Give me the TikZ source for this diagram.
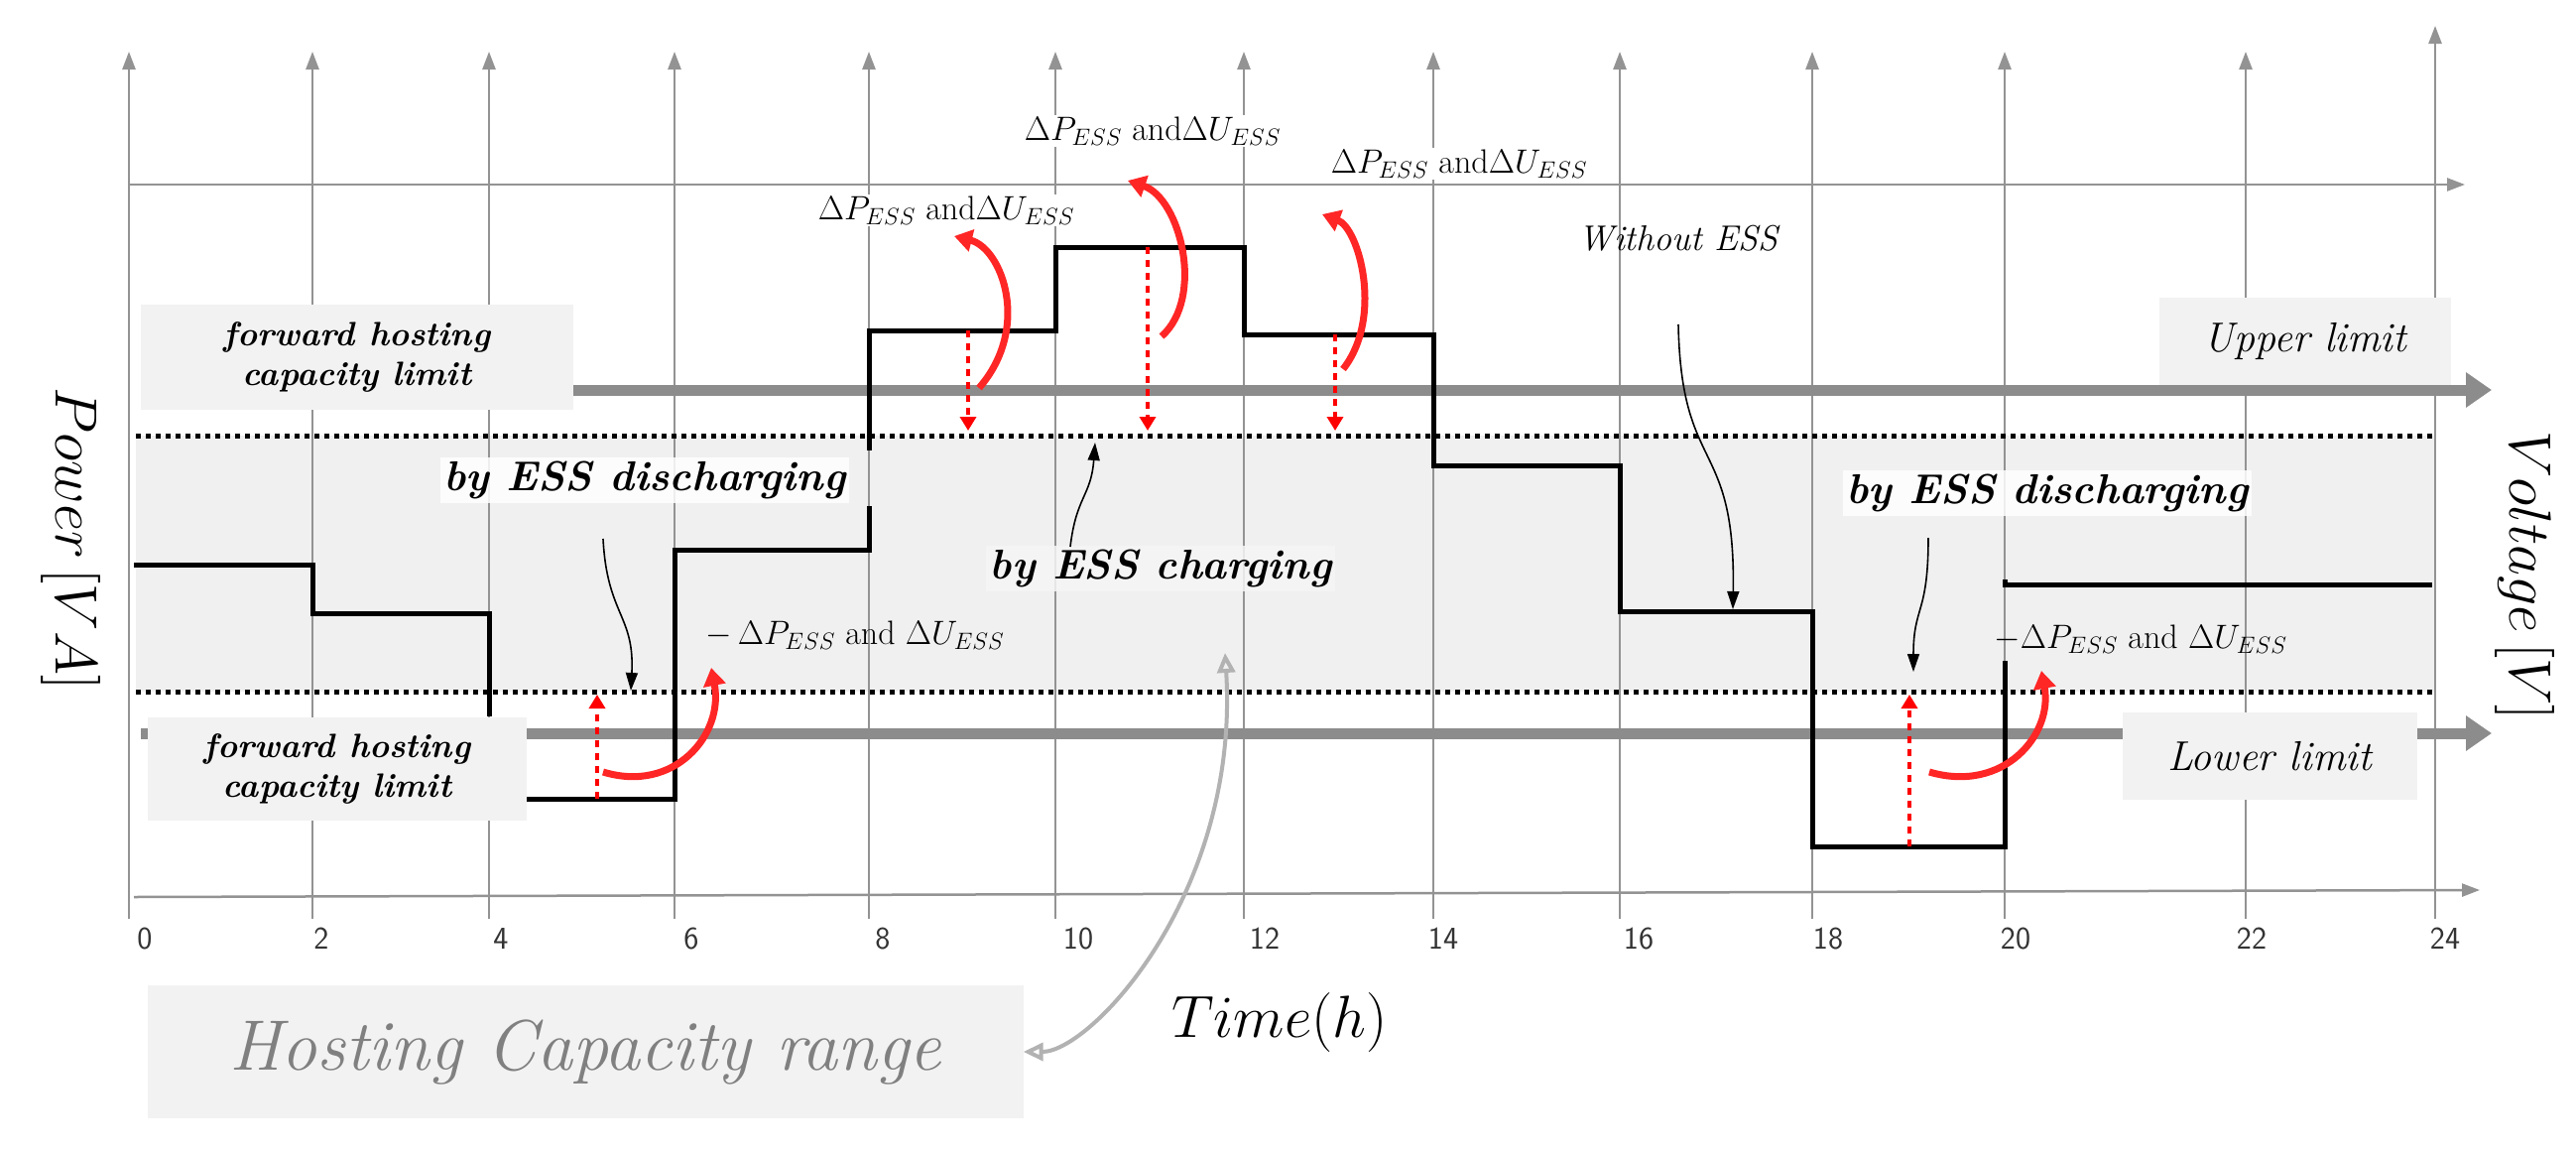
\RequirePackage{fix-cm}
\documentclass[tikz,border=0pt]{standalone}
\usetikzlibrary{arrows.meta}
\begin{document}
\begin{tikzpicture}[x=1pt,y=-1pt,
 grid/.style={draw=gray!85,line width=2.5pt,-{Triangle[length=18pt,width=13pt]}},
 lim/.style={draw=gray!90,line width=11pt,-{Triangle[length=26pt,width=34pt]}},
 stepl/.style={draw=black,line width=5pt},
 dot/.style={draw=black,line width=5pt,dash pattern=on 5pt off 5pt},
 reddot/.style={draw=red,line width=4pt,dash pattern=on 7pt off 6pt,-{Triangle[length=14pt,width=16pt]}},
 redc/.style={draw=red!85,line width=7pt,-{Triangle[length=18pt,width=22pt]}},
 blk/.style={draw=black,line width=1.6pt,-{Triangle[length=18pt,width=12pt]}},
 box/.style={fill=gray!10,inner sep=0pt},
 wbox/.style={fill=white,fill opacity=0.85,text opacity=1,inner sep=4pt},
 dl/.style={font=\fontsize{34}{38}\selectfont},
 tick/.style={font=\sffamily\fontsize{32}{36}\selectfont,text=black!80},
 bes/.style={font=\bfseries\itshape\fontsize{42}{46}\selectfont},
 fh/.style={font=\bfseries\itshape\fontsize{34}{40}\selectfont,align=center}]
\fill[white] (0,0) rectangle (2597,1162);
% band
\fill[gray!12] (137,439) rectangle (2455,697);
% vertical grid
\foreach \x/\t in {130/52,315/52,493/52,680/52,876/52,1064/52,1254/52,1445/52,1633/52,1827/52,2021/52,2264/52,2455/26}
  \draw[grid] (\x,926) -- (\x,\t);
% horizontals
\draw[grid] (130,186) -- (2485,186);
\draw[grid] (135,904) -- (2500,897);
% limit lines
\draw[lim] (142,393) -- (2512,393);
\draw[lim] (142,739) -- (2512,739);
% dotted
\draw[dot] (137,439) -- (2455,439);
\draw[dot] (137,697) -- (2455,697);
% boxes
\node[box,minimum width=436pt,minimum height=106pt,fh] (fu) at (360,360) {forward hosting\\capacity limit};
\node[box,minimum width=382pt,minimum height=104pt,fh] (fl) at (340,775) {forward hosting\\capacity limit};
\node[box,minimum width=294pt,minimum height=88pt,font=\itshape\fontsize{42}{46}\selectfont] (ul) at (2324,344) {Upper limit};
\node[box,minimum width=297pt,minimum height=88pt,font=\itshape\fontsize{42}{46}\selectfont] (ll) at (2288,762) {Lower limit};
\node[box,minimum width=883pt,minimum height=134pt,font=\itshape\fontsize{72}{76}\selectfont,text=gray] (hc) at (590,1060) {Hosting Capacity range};
% step function
\draw[stepl] (135,569) -- (315,569) -- (315,618) -- (493,618) -- (493,722);
\draw[stepl] (531,805) -- (680,805) -- (680,554) -- (876,554) -- (876,510);
\draw[stepl] (876,454) -- (876,333) -- (1064,333) -- (1064,249) -- (1254,249) -- (1254,337) -- (1445,337) -- (1445,469) -- (1633,469) -- (1633,616) -- (1827,616) -- (1827,853) -- (2021,853) -- (2021,666);
\draw[stepl] (2021,584) -- (2021,589) -- (2452,589);
% text labels
\node[wbox,bes] (d1) at (650,484) {by ESS discharging};
\node[wbox,bes] (d2) at (2064,497) {by ESS discharging};
\node[wbox,bes,fill=gray!8] (ch) at (1170,573) {by ESS charging};
\node[font=\itshape\fontsize{36}{40}\selectfont] (wo) at (1692,240) {Without ESS};
\node[dl,fill=white,inner sep=2pt] (t1) at (954,212) {$\Delta P_{ESS}$ and$\Delta U_{ESS}$};
\node[dl,fill=white,inner sep=2pt] (t2) at (1162,132) {$\Delta P_{ESS}$ and$\Delta U_{ESS}$};
\node[dl,fill=white,inner sep=2pt] (t3) at (1471,165) {$\Delta P_{ESS}$ and$\Delta U_{ESS}$};
\node[dl] (t4) at (862,640) {$-\,\Delta P_{ESS}$ and $\Delta U_{ESS}$};
\node[dl] (t5) at (2158,644) {$-\Delta P_{ESS}$ and $\Delta U_{ESS}$};
% black arrows
\coordinate (a1) at (608,543); \coordinate (b1) at (636,696);
\draw[blk] (a1) .. controls (612,620) and (640,620) .. (b1);
\coordinate (a2) at (1079,551); \coordinate (b2) at (1104,446);
\draw[blk] (a2) .. controls (1085,500) and (1100,500) .. (b2);
\coordinate (a3) at (1692,327); \coordinate (b3) at (1747,614);
\draw[blk] (a3) .. controls (1695,480) and (1750,440) .. (b3);
\coordinate (a4) at (1944,542); \coordinate (b4) at (1929,677);
\draw[blk] (a4) .. controls (1944,620) and (1929,610) .. (b4);
% red dotted
\foreach \x/\y in {976/333,1157/249,1346/337} \draw[reddot] (\x,\y) -- (\x,434);
\draw[reddot] (602,805) -- (602,700);
\draw[reddot] (1925,853) -- (1925,700);
% red curved
\draw[redc] (987,391) .. controls (1040,330) and (1010,250) .. (962,238);
\draw[redc] (1171,339) .. controls (1215,300) and (1190,200) .. (1137,182);
\draw[redc] (1354,372) .. controls (1395,320) and (1370,230) .. (1333,216);
\draw[redc] (608,778) .. controls (680,800) and (730,740) .. (717,673);
\draw[redc] (1945,778) .. controls (2020,800) and (2070,740) .. (2058,676);
% hosting arrow
\coordinate (h1) at (1235,658);
\draw[draw=gray!60,line width=4pt,{Triangle[open,length=20pt,width=18pt]}-{Triangle[open,length=20pt,width=18pt]}] (h1) .. controls (1250,900) and (1100,1060) .. (hc.east);
% tick labels
\foreach \x/\l in {146/0,324/2,505/4,697/6,890/8,1087/10,1275/12,1455/14,1652/16,1843/18,2032/20,2270/22,2465/24}
  \node[tick] at (\x,946) {\l};
% axis titles
\node[rotate=-90,font=\fontsize{60}{64}\selectfont] at (71,543) {$Power\,[VA]$};
\node[rotate=-90,font=\fontsize{60}{64}\selectfont] at (2545,580) {$Voltage\,[V]$};
\node[font=\fontsize{60}{64}\selectfont] at (1290,1030) {$Time(h)$};
\end{tikzpicture}
\end{document}
